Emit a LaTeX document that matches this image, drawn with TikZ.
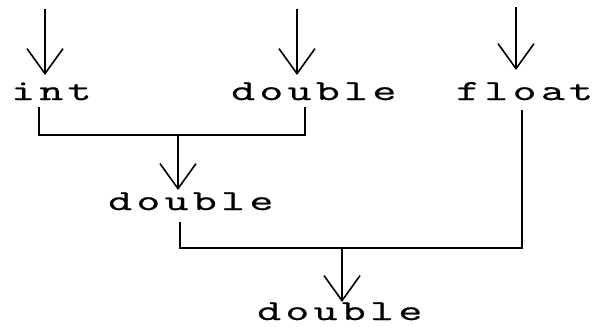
\documentclass[tikz,border=0pt]{standalone}
\usepackage{fontspec}
\newfontfamily\codefont[FakeStretch=1.6,FakeBold=0.8,LetterSpace=15]{Latin Modern Mono}
\usetikzlibrary{arrows.meta,calc}
\begin{document}
\begin{tikzpicture}[x=1pt,y=-1pt,
  lbl/.style={inner sep=0pt, anchor=base west, text depth=0pt, font=\codefont\fontsize{29}{29}\selectfont},
  arr/.style={-{Straight Barb[length=25pt,width=36pt,line width=1.6pt]}, line width=2pt},
  wire/.style={line width=2pt}]
\useasboundingbox (0,0) rectangle (593,326);
\node[lbl] (int) at (11,100) {int};
\node[lbl] (d1) at (231,100) {double};
\node[lbl] (fl) at (456,100) {float};
\node[lbl] (d2) at (108,210) {double};
\node[lbl] (d3) at (257,320) {double};
\coordinate (ti) at (45,9);
\coordinate (td) at (297,9);
\coordinate (tf) at (516,7);
\coordinate (j1) at (178,135);
\coordinate (j2) at (342,248);
\draw[arr] (ti) -- ($(ti |- int.base)+(0,-25)$);
\draw[arr] (td) -- ($(td |- d1.base)+(0,-25)$);
\draw[arr] (tf) -- ($(tf |- fl.base)+(0,-30)$);
\draw[wire] ($(int.base west)+(28,7)$) |- (j1) -| ($(d1.base west)+(74,7)$);
\draw[arr] (j1) -- ($(j1 |- d2.base)+(0,-20)$);
\draw[wire] ($(d2.base west)+(72,12)$) |- (j2) -| ($(fl.base west)+(66,10)$);
\draw[arr] (j2) -- ($(j2 |- d3.base)+(0,-18)$);
\end{tikzpicture}
\end{document}
